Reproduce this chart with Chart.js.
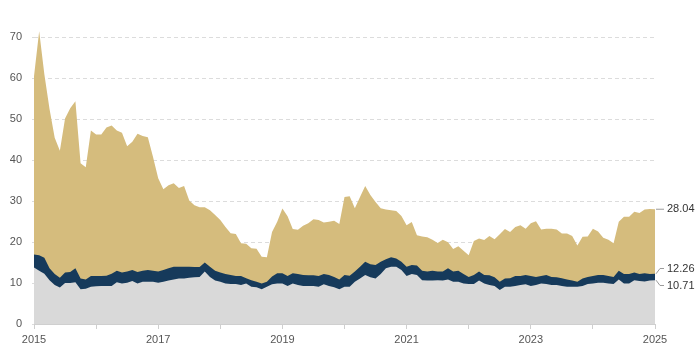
<!DOCTYPE html>
<html>
<head>
<meta charset="utf-8">
<script src="https://cdn.jsdelivr.net/npm/chart.js@4/dist/chart.umd.min.js"></script>
<style>
  html, body { margin: 0; padding: 0; background: #fff; }
  #wrap { width: 700px; height: 358px; position: relative; }
</style>
</head>
<body>
<div id="wrap"><canvas id="c" width="700" height="358"></canvas></div>
<script>
// Monthly categories, Jan 2015 .. Jan 2025
const months = [];
for (let y = 2015; y <= 2025; y++) {
  for (let m = 1; m <= 12; m++) {
    if (y === 2025 && m > 1) break;
    months.push(y + '-' + String(m).padStart(2, '0'));
  }
}

// Upper (tan) series
const seriesTop = [
  60.5,71.5,61,52.5,45.5,42.3,50.2,52.7,54.4,39.3,38.3,47.3,
  46.3,46.3,48,48.5,47.3,46.7,43.4,44.5,46.5,45.9,45.6,40.8,
  35.6,32.9,33.9,34.4,33.2,33.7,30.2,29,28.5,28.5,27.8,26.6,
  25.4,23.7,22.2,22,19.7,19.6,18.5,18.4,16.4,16.3,22.5,25,
  28.2,26.3,23.2,23,24,24.6,25.6,25.4,24.8,25,25.2,24.4,
  31,31.2,28.3,31,33.7,31.5,29.8,28.3,28,27.8,27.6,26.4,
  24.1,24.9,21.7,21.4,21.2,20.6,19.8,20.6,20,18.3,19,17.9,
  16.8,20.3,20.9,20.5,21.5,20.7,21.9,23.2,22.5,23.7,24.1,23.3,
  24.6,25.1,23.1,23.3,23.3,23.1,22.1,22.1,21.5,19.2,21.3,21.4,
  23.3,22.6,21.1,20.6,19.7,25,26.2,26.2,27.4,27.1,28,28.1,
  28.04
];
// Middle (navy) series
const seriesMid = [
  17,16.8,16.2,13.6,12.2,11.3,12.6,12.7,13.6,11.1,10.9,11.7,
  11.7,11.7,11.8,12.3,13,12.6,12.8,13.2,12.7,13,13.2,13,
  12.8,13.2,13.6,14,14,14,14,13.9,13.9,15,14,13,
  12.6,12.2,12,11.7,11.7,11.2,10.7,10.3,9.9,10.3,11.6,12.4,
  12.4,11.7,12.4,12.2,12,11.9,11.9,11.7,12.2,12,11.5,10.9,
  12,11.8,12.8,14,15.2,14.6,14.4,15.2,15.8,16.3,16,15.2,
  14,14.4,14.3,13,12.8,13,12.8,12.8,13.6,12.8,13,12.2,
  11.5,12,12.8,12,11.9,11.4,10.3,11.1,11.2,11.7,11.7,12,
  11.7,11.5,11.7,12,11.5,11.4,11.2,10.9,10.6,10.3,11.1,11.5,
  11.7,12,12,11.7,11.5,13,12.2,12.2,12.6,12.2,12.4,12.2,
  12.26
];
// Base (gray) series
const seriesBase = [
  13.8,13,12.3,10.7,9.5,8.9,10,10,10.2,8.5,8.6,9.1,
  9.2,9.3,9.3,9.3,10.2,9.9,10.1,10.5,9.9,10.3,10.3,10.3,
  10.1,10.3,10.6,10.9,11.1,11.1,11.3,11.4,11.5,12.8,11.5,10.6,
  10.3,9.9,9.8,9.8,9.5,9.9,9.1,9,8.5,9.1,9.7,9.9,
  9.9,9.3,9.9,9.5,9.3,9.3,9.3,9.1,9.7,9.3,9,8.5,
  9.1,9.1,10.3,11.1,12,11.4,11.1,12.2,13.6,14,14,13.2,
  11.7,12.2,12,10.7,10.6,10.6,10.7,10.6,10.9,10.3,10.3,9.9,
  9.8,9.8,10.6,9.9,9.5,9.3,8.3,9.1,9.1,9.3,9.5,9.7,
  9.3,9.5,9.9,9.8,9.5,9.5,9.3,9.1,9.1,9.1,9.3,9.8,
  9.9,10.1,10.1,9.9,9.8,10.9,9.9,9.9,10.7,10.5,10.4,10.6,
  10.71
];

const yTicks = [0, 10, 20, 30, 40, 50, 60, 70];
const xTickYears = [2015, 2016, 2017, 2018, 2019, 2020, 2021, 2022, 2023, 2024, 2025];
const xLabelYears = [2015, 2017, 2019, 2021, 2023, 2025];

const COLORS = { top: '#D5BC7D', mid: '#163A5B', base: '#D9D9D9' };

function toX(label) {
  const [y, m] = label.split('-').map(Number);
  return y + (m - 1) / 12;
}
function pts(arr) { return arr.map((v, i) => ({ x: toX(months[i]), y: v })); }

const endLabels = {
  id: 'endLabels',
  afterDatasetsDraw(chart) {
    const { ctx, scales: { x, y } } = chart;
    const n = months.length - 1;
    const xEnd = x.getPixelForValue(toX(months[n]));
    const items = [seriesTop[n], seriesMid[n], seriesBase[n]].map(v => ({ v, py: y.getPixelForValue(v), ly: y.getPixelForValue(v) }));
    // spread labels to avoid overlap
    items.sort((a, b) => a.py - b.py);
    const gap = 17;
    for (let k = 0; k < 30; k++) {
      for (let i = 0; i < items.length - 1; i++) {
        const a = items[i], b = items[i + 1];
        const d = b.ly - a.ly;
        if (d < gap) { const s = (gap - d) / 2; a.ly -= s; b.ly += s; }
      }
    }
    ctx.save();
    ctx.strokeStyle = '#9a9a9a';
    ctx.lineWidth = 1;
    ctx.fillStyle = '#333';
    ctx.font = '11px "Liberation Sans", Arial, sans-serif';
    ctx.textBaseline = 'middle';
    ctx.textAlign = 'left';
    items.forEach(it => {
      ctx.beginPath();
      ctx.moveTo(xEnd + 1, it.py);
      ctx.lineTo(xEnd + 5, it.ly);
      ctx.lineTo(xEnd + 9, it.ly);
      ctx.stroke();
      ctx.fillText(it.v.toFixed(2), xEnd + 12, it.ly);
    });
    ctx.restore();
  }
};

new Chart(document.getElementById('c'), {
  type: 'line',
  data: {
    datasets: [
      { label: 'Base', data: pts(seriesBase), backgroundColor: COLORS.base, borderWidth: 0, fill: 'origin', pointRadius: 0, tension: 0 },
      { label: 'Middle', data: pts(seriesMid), backgroundColor: COLORS.mid, borderWidth: 0, fill: 'origin', pointRadius: 0, tension: 0 },
      { label: 'Top', data: pts(seriesTop), backgroundColor: COLORS.top, borderWidth: 0, fill: 'origin', pointRadius: 0, tension: 0 }
    ]
  },
  options: {
    responsive: false,
    animation: false,
    layout: { padding: { top: 17, right: 45, left: 0, bottom: 0 } },
    plugins: { legend: { display: false }, tooltip: { enabled: false } },
    scales: {
      x: {
        type: 'linear',
        min: 2015, max: 2025,
        afterBuildTicks(scale) { scale.ticks = xTickYears.map(v => ({ value: v })); },
        afterFit(scale) { scale.height = 34; },
        grid: { drawOnChartArea: false, drawTicks: true, tickLength: 5, color: '#cfcfcf' },
        border: { display: true, color: '#cfcfcf' },
        ticks: {
          autoSkip: false, maxRotation: 0, padding: 4,
          color: '#555', font: { size: 11, family: '"Liberation Sans", Arial, sans-serif' },
          callback: v => xLabelYears.includes(v) ? String(v) : ''
        }
      },
      y: {
        min: 0, max: 75,
        afterBuildTicks(scale) { scale.ticks = yTicks.map(v => ({ value: v })); },
        afterFit(scale) { scale.width = 34; },
        grid: { color: '#dcdcdc', tickLength: 2, drawTicks: true },
        border: { display: false, dash: [4, 3] },
        ticks: {
          padding: 10,
          color: '#555', font: { size: 11, family: '"Liberation Sans", Arial, sans-serif' }
        }
      }
    }
  },
  plugins: [endLabels]
});
</script>
</body>
</html>
